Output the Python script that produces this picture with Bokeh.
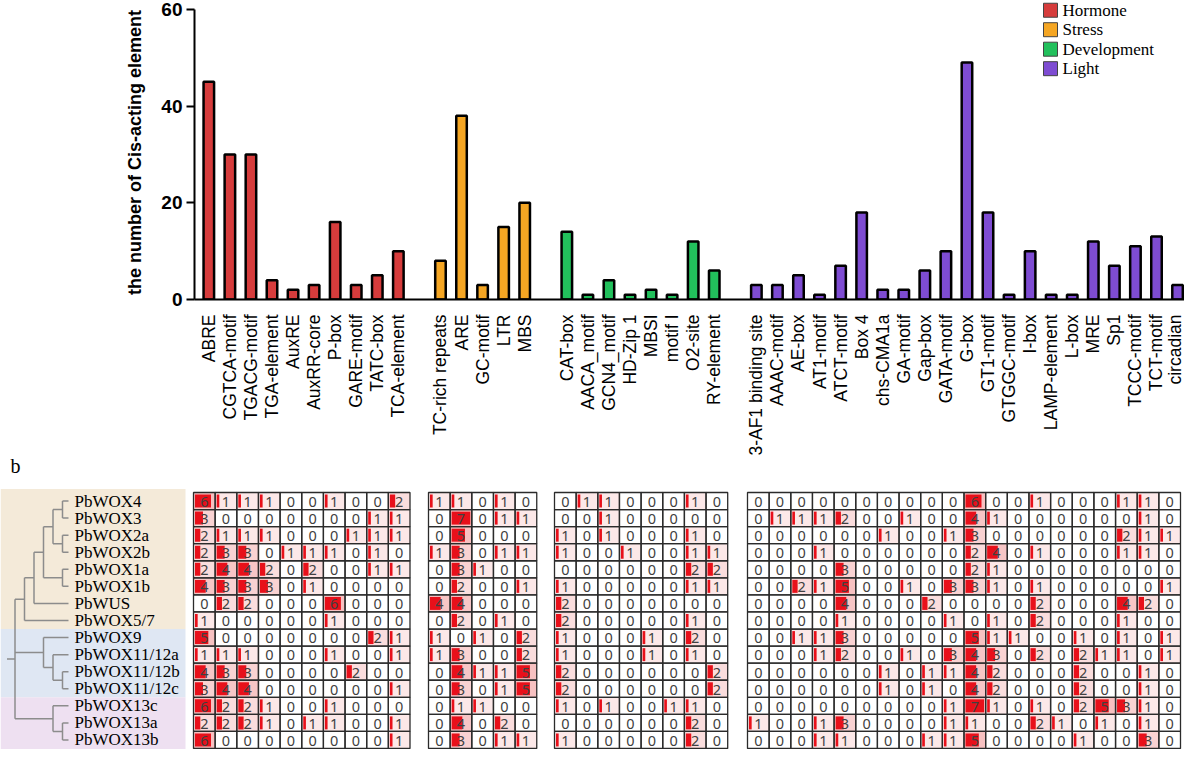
import math
from bokeh.plotting import figure
from bokeh.models import Range1d, FixedTicker, Label, ColumnDataSource
from bokeh.layouts import column
from bokeh.embed import file_html
from bokeh.resources import INLINE
from bokeh.core.properties import value

# ---------------- data: panel a ----------------
group_labels = ["Hormone", "Stress", "Development", "Light"]
group_colors = ["#D63C3C", "#F5A623", "#22C05C", "#7E4CD2"]

hormone_names = ["ABRE", "CGTCA-motif", "TGACG-motif", "TGA-element", "AuxRE", "AuxRR-core",
                 "P-box", "GARE-motif", "TATC-box", "TCA-element"]
hormone_vals = [45, 30, 30, 4, 2, 3, 16, 3, 5, 10]

stress_names = ["TC-rich repeats", "ARE", "GC-motif", "LTR", "MBS"]
stress_vals = [8, 38, 3, 15, 20]

dev_names = ["CAT-box", "AACA_motif", "GCN4_motif", "HD-Zip 1", "MBSI", "motif I", "O2-site", "RY-element"]
dev_vals = [14, 1, 4, 1, 2, 1, 12, 6]

light_names = ["3-AF1 binding site", "AAAC-motif", "AE-box", "AT1-motif", "ATCT-motif", "Box 4",
               "chs-CMA1a", "GA-motif", "Gap-box", "GATA-motif", "G-box", "GT1-motif", "GTGGC-motif",
               "I-box", "LAMP-element", "L-box", "MRE", "Sp1", "TCCC-motif", "TCT-motif", "circadian"]
light_vals = [3, 3, 5, 1, 7, 18, 2, 2, 6, 10, 49, 18, 1, 10, 1, 1, 12, 7, 11, 13, 3]

y_ticks = [0, 20, 40, 60]

# ---------------- data: panel b ----------------
genes = ["PbWOX4", "PbWOX3", "PbWOX2a", "PbWOX2b", "PbWOX1a", "PbWOX1b", "PbWUS", "PbWOX5/7",
         "PbWOX9", "PbWOX11/12a", "PbWOX11/12b", "PbWOX11/12c", "PbWOX13c", "PbWOX13a", "PbWOX13b"]

tree = (((((("PbWOX4", "PbWOX3"), ("PbWOX2a", "PbWOX2b")), ("PbWOX1a", "PbWOX1b")), "PbWUS"), "PbWOX5/7"),
        ("PbWOX9", ("PbWOX11/12a", ("PbWOX11/12b", "PbWOX11/12c"))),
        ("PbWOX13c", ("PbWOX13a", "PbWOX13b")))

hm_hormone = [
    [6, 1, 1, 1, 0, 0, 1, 0, 0, 2],
    [3, 0, 0, 0, 0, 0, 0, 0, 1, 1],
    [2, 1, 1, 1, 0, 0, 0, 1, 1, 1],
    [2, 3, 3, 0, 1, 1, 1, 0, 1, 0],
    [2, 4, 4, 2, 0, 2, 0, 0, 1, 1],
    [4, 3, 3, 3, 0, 1, 0, 0, 0, 0],
    [0, 2, 2, 0, 0, 0, 6, 0, 0, 0],
    [1, 0, 0, 0, 0, 0, 1, 0, 0, 0],
    [5, 0, 0, 0, 0, 0, 0, 0, 2, 1],
    [1, 1, 1, 0, 0, 0, 1, 0, 0, 1],
    [4, 3, 3, 0, 0, 0, 0, 2, 0, 0],
    [3, 4, 4, 0, 0, 0, 0, 0, 0, 1],
    [6, 2, 2, 1, 0, 0, 1, 0, 0, 0],
    [2, 2, 2, 1, 0, 1, 1, 0, 0, 1],
    [6, 0, 0, 0, 0, 0, 0, 0, 0, 1],
]
hm_stress = [
    [1, 1, 0, 1, 0],
    [0, 7, 0, 1, 1],
    [0, 5, 0, 0, 0],
    [1, 3, 0, 1, 1],
    [0, 3, 1, 0, 0],
    [0, 2, 0, 0, 1],
    [4, 4, 0, 0, 0],
    [0, 2, 0, 1, 0],
    [1, 0, 1, 0, 2],
    [1, 3, 0, 0, 2],
    [0, 4, 1, 1, 5],
    [0, 3, 0, 1, 5],
    [0, 1, 1, 0, 0],
    [0, 4, 0, 2, 0],
    [0, 3, 0, 1, 1],
]
hm_dev = [
    [0, 1, 1, 0, 0, 0, 1, 0],
    [0, 0, 1, 0, 0, 0, 0, 0],
    [1, 0, 1, 0, 0, 0, 1, 0],
    [1, 0, 0, 1, 0, 0, 1, 1],
    [0, 0, 0, 0, 0, 0, 2, 2],
    [1, 0, 0, 0, 0, 0, 1, 1],
    [2, 0, 0, 0, 0, 0, 0, 0],
    [2, 0, 0, 0, 0, 0, 1, 0],
    [1, 0, 0, 0, 1, 0, 2, 0],
    [1, 0, 0, 0, 1, 0, 1, 0],
    [2, 0, 0, 0, 0, 0, 0, 2],
    [2, 0, 0, 0, 0, 0, 0, 2],
    [1, 0, 1, 0, 0, 1, 1, 0],
    [0, 0, 0, 0, 0, 0, 2, 0],
    [1, 0, 0, 0, 0, 0, 2, 0],
]
hm_light = [
    [0, 0, 0, 0, 0, 0, 0, 0, 0, 0, 6, 0, 0, 1, 0, 0, 0, 1, 1, 0],
    [0, 1, 1, 1, 2, 0, 0, 1, 0, 0, 4, 1, 0, 0, 0, 0, 0, 0, 1, 0],
    [0, 0, 0, 0, 0, 0, 1, 0, 0, 1, 3, 0, 0, 0, 0, 0, 0, 2, 1, 1],
    [0, 0, 0, 1, 0, 0, 0, 0, 0, 0, 2, 4, 0, 1, 0, 0, 0, 1, 1, 0],
    [0, 0, 0, 0, 3, 0, 0, 0, 0, 0, 2, 1, 0, 0, 0, 0, 0, 0, 0, 0],
    [0, 0, 2, 1, 5, 0, 0, 1, 0, 3, 3, 1, 0, 1, 0, 0, 0, 0, 0, 1],
    [0, 0, 0, 0, 4, 0, 0, 0, 2, 0, 0, 0, 0, 2, 0, 0, 0, 4, 2, 0],
    [0, 0, 0, 0, 1, 0, 0, 0, 0, 1, 0, 1, 0, 2, 0, 0, 0, 1, 0, 0],
    [0, 0, 1, 1, 3, 0, 0, 0, 0, 0, 5, 1, 1, 0, 0, 1, 0, 1, 0, 1],
    [0, 0, 0, 1, 2, 0, 0, 1, 0, 3, 4, 3, 0, 2, 0, 2, 1, 1, 0, 1],
    [0, 0, 0, 0, 0, 0, 1, 0, 1, 1, 4, 2, 0, 0, 0, 2, 0, 0, 1, 0],
    [0, 0, 0, 0, 0, 0, 1, 0, 1, 0, 4, 2, 0, 0, 0, 2, 0, 0, 1, 0],
    [0, 0, 0, 0, 0, 0, 0, 0, 0, 1, 7, 1, 0, 1, 0, 2, 5, 3, 1, 0],
    [1, 0, 0, 1, 3, 0, 0, 0, 0, 1, 1, 0, 0, 2, 1, 0, 1, 0, 1, 0],
    [0, 0, 0, 1, 1, 0, 0, 0, 1, 1, 5, 0, 0, 0, 0, 1, 0, 0, 3, 0],
]

# ---------------- panel a ----------------
W = 1184
SANS = "Liberation Sans"
SERIF = "Liberation Serif"

TOP_H = 458
FRAME_L, FRAME_R_PAD = 194, 0
BASE_Y = 307            # canvas y of the zero line
Y60 = 9                 # canvas y of the value 60
ppu = (BASE_Y - Y60) / 60.0
y_end = 60 + Y60 / ppu
x_start, x_end = -0.68, 46.33
ppx = (W - FRAME_R_PAD - FRAME_L) / (x_end - x_start)

top = figure(width=W, height=TOP_H, x_range=Range1d(x_start, x_end), y_range=Range1d(0, y_end),
             output_backend="svg", toolbar_location=None, title=None,
             min_border_left=FRAME_L, min_border_right=FRAME_R_PAD, min_border_top=0,
             min_border_bottom=TOP_H - BASE_Y)
top.frame_align = False
top.xgrid.visible = False
top.ygrid.visible = False
top.outline_line_color = None

all_names, all_pos = [], []
start = 0
for names, vals, color in zip([hormone_names, stress_names, dev_names, light_names],
                              [hormone_vals, stress_vals, dev_vals, light_vals], group_colors):
    pos = [start + i for i in range(len(names))]
    src = ColumnDataSource(dict(x=pos, top=vals))
    top.vbar(x="x", top="top", width=0.5, source=src, fill_color=color,
             line_color="black", line_width=2.5)
    all_names += names
    all_pos += pos
    start += len(names) + 1

xa = top.xaxis[0]
xa.ticker = FixedTicker(ticks=all_pos)
xa.major_label_overrides = {p_: n for p_, n in zip(all_pos, all_names)}
xa.major_label_orientation = math.pi / 2
xa.major_label_text_font = SANS
xa.major_label_text_font_size = "17.5px"
xa.major_label_text_color = "black"
xa.major_tick_line_color = None
xa.minor_tick_line_color = None
xa.axis_line_width = 2
xa.axis_line_color = "black"
xa.major_label_standoff = 9

ya = top.yaxis[0]
ya.bounds = (0, 60)
ya.ticker = FixedTicker(ticks=y_ticks)
ya.axis_label = "the number of  Cis-acting element"
ya.axis_label_text_font = SANS
ya.axis_label_text_font_style = "bold"
ya.axis_label_text_font_size = "18px"
ya.axis_label_text_color = "black"
ya.axis_label_standoff = 13
ya.major_label_text_font = SANS
ya.major_label_text_font_style = "bold"
ya.major_label_text_font_size = "19px"
ya.major_label_text_color = "black"
ya.major_label_standoff = 4
ya.axis_line_width = 2
ya.axis_line_color = "black"
ya.major_tick_line_width = 2
ya.major_tick_line_color = "black"
ya.major_tick_out = 8
ya.major_tick_in = 0
ya.minor_tick_line_color = None

# legend drawn as glyphs in the top-right corner
LEG_X_PX = 1050          # canvas x of legend squares
LEG_Y0_PX, LEG_DY_PX = 10, 20
leg_x = x_start + (LEG_X_PX - FRAME_L) / ppx
leg_y = [y_end - (LEG_Y0_PX + i * LEG_DY_PX) / ppu for i in range(len(group_labels))]
top.rect(x=[leg_x] * len(group_labels), y=leg_y, width=14, height=14, width_units="screen",
         height_units="screen", fill_color=group_colors, line_color="#444444", line_width=1)
top.text(x=[leg_x + 12 / ppx] * len(group_labels), y=leg_y, text=group_labels,
         text_font=value(SERIF), text_font_size="17px", text_baseline="middle",
         text_align="left", text_color="black")

top.add_layout(Label(x=x_start - (FRAME_L - 10) / ppx, y=y_end - 20 / ppu, text="a",
                     text_font=SERIF, text_font_size="20px", text_baseline="middle",
                     text_align="left", text_color="black"))

# ---------------- panel b ----------------
BH = 749 - TOP_H
ROW_TOP_PX = 492 - TOP_H   # heatmap top within panel b
row_h = (BH - 1 - ROW_TOP_PX) / len(genes)
bot = figure(width=W, height=BH, x_range=Range1d(0, W),
             y_range=Range1d((BH) / row_h - ROW_TOP_PX / row_h, -ROW_TOP_PX / row_h),
             output_backend="svg", toolbar_location=None, title=None,
             x_axis_location=None, y_axis_location=None,
             min_border_left=0, min_border_right=0, min_border_top=0, min_border_bottom=0)
bot.frame_align = False
bot.xgrid.visible = False
bot.ygrid.visible = False
bot.outline_line_color = None

# clade background bands
bands = [(-0.2, 8, "#F4EAD9"), (8, 12, "#DFE7F3"), (12, len(genes) + 0.2, "#EEE0F1")]
bot.quad(left=0, right=185, top=[b[0] for b in bands], bottom=[b[1] for b in bands],
         fill_color=[b[2] for b in bands], line_color=None)

# tree
LEAF_X = 68
def tree_x(h):
    return 71.5 - 9.5 * h

segs = []
def lay(node):
    if isinstance(node, str):
        return (LEAF_X, genes.index(node) + 0.5, 0)
    kids = [lay(c) for c in node]
    h = 1 + max(k[2] for k in kids)
    x = tree_x(h)
    ys = [k[1] for k in kids]
    segs.append((x, min(ys), x, max(ys)))
    for kx, ky, kh in kids:
        segs.append((x, ky, kx, ky))
    return (x, (min(ys) + max(ys)) / 2, h)

rx, ry, rh = lay(tree)
segs.append((rx - 8, ry, rx, ry))
bot.segment(x0=[s[0] for s in segs], y0=[s[1] for s in segs], x1=[s[2] for s in segs],
            y1=[s[3] for s in segs], line_color="#8C8C8C", line_width=1.5)

bot.text(x=[74] * len(genes), y=[i + 0.5 for i in range(len(genes))], text=genes,
         text_font=value(SERIF), text_font_size="17px", text_baseline="middle",
         text_align="left", text_color="black")

# heatmap with data bars
CW = 21.65
g_starts = [193, 428, 554, 747]
VMAX = 7
bg = dict(l=[], r=[], t=[], b=[], a=[])
bar = dict(l=[], r=[], t=[], b=[])
cell = dict(l=[], r=[], t=[], b=[])
txt = dict(x=[], y=[], s=[])
for gx, M in zip(g_starts, [hm_hormone, hm_stress, hm_dev, hm_light]):
    for r, row in enumerate(M):
        for c, v in enumerate(row):
            left = gx + c * CW
            cell["l"].append(left); cell["r"].append(left + CW)
            cell["t"].append(r); cell["b"].append(r + 1)
            txt["x"].append(left + CW / 2); txt["y"].append(r + 0.55); txt["s"].append(str(v))
            if v > 0:
                bg["l"].append(left); bg["r"].append(left + CW)
                bg["t"].append(r); bg["b"].append(r + 1)
                bg["a"].append(min(0.12 + 0.12 * v, 0.65))
                w = max(2.5, v / VMAX * (CW - 3))
                bar["l"].append(left + 1.5); bar["r"].append(left + 1.5 + w)
                bar["t"].append(r + 0.12); bar["b"].append(r + 0.88)

bot.quad(left=bg["l"], right=bg["r"], top=bg["t"], bottom=bg["b"], fill_color="#F2A0A0",
         fill_alpha=bg["a"], line_color=None)
bot.quad(left=bar["l"], right=bar["r"], top=bar["t"], bottom=bar["b"], fill_color="#E8101A",
         line_color=None)
bot.quad(left=cell["l"], right=cell["r"], top=cell["t"], bottom=cell["b"], fill_color=None,
         line_color="#2B2B2B", line_width=1.3)
bot.text(x=txt["x"], y=txt["y"], text=txt["s"], text_font=value("Noto Sans"),
         text_font_size="14.5px", text_align="center", text_baseline="middle", text_color="#404040")

bot.add_layout(Label(x=10, y=(465 - TOP_H - ROW_TOP_PX) / row_h, text="b", text_font=SERIF,
                     text_font_size="20px", text_baseline="middle", text_align="left",
                     text_color="black"))

layout = column(top, bot, spacing=0)
open("out.html", "w").write(file_html(layout, INLINE))
